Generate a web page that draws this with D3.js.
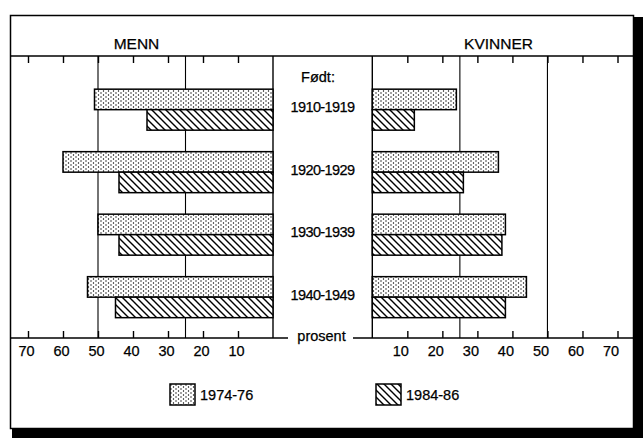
<!DOCTYPE html>
<html>
<head>
<meta charset="utf-8">
<script src="https://cdn.jsdelivr.net/npm/d3@7"></script>
<style>
  body { margin: 0; background: #fff; }
  svg { display: block; font-family: "Liberation Sans", Arial, sans-serif; }
  text { fill: #000; stroke: #000; stroke-width: 0.25px; }
</style>
</head>
<body>
<div class="chart-holder"></div>
<script>
// data (percent)
var cohorts = ["1910-1919", "1920-1929", "1930-1939", "1940-1949"];
var periods = ["1974-76", "1984-86"];
var menn7476 = [51, 60, 50, 53];
var menn8486 = [36, 44, 44, 45];
var kvinner7476 = [24, 36, 38, 44];
var kvinner8486 = [12, 26, 37, 38];
var tickValues = [10, 20, 30, 40, 50, 60, 70];
var gridValues = [25, 50];

var width = 643, height = 438;
var plotTop = 56, plotBottom = 338;

var svg = d3.select(".chart-holder")
    .append("svg")
    .attr("width", width)
    .attr("height", height);

// patterns
var defs = svg.append("defs");
var dots = defs.append("pattern")
    .attr("id", "dots")
    .attr("patternUnits", "userSpaceOnUse")
    .attr("width", 5).attr("height", 4);
dots.append("rect").attr("width", 5).attr("height", 4).attr("fill", "#fff");
dots.append("circle").attr("cx", 1).attr("cy", 1).attr("r", 0.7).attr("fill", "#000");
dots.append("circle").attr("cx", 3.5).attr("cy", 3).attr("r", 0.7).attr("fill", "#000");

var hatch = defs.append("pattern")
    .attr("id", "hatch")
    .attr("patternUnits", "userSpaceOnUse")
    .attr("width", 7).attr("height", 7);
hatch.append("rect").attr("width", 7).attr("height", 7).attr("fill", "#fff");
hatch.append("path")
    .attr("d", "M-1,-1 L8,8 M6,-1 L8,1 M-1,6 L1,8")
    .attr("stroke", "#000").attr("stroke-width", 1.4);

var fills = {"1974-76": "url(#dots)", "1984-86": "url(#hatch)"};

// frame with shadow
svg.append("rect").attr("x", 12).attr("y", 17).attr("width", width - 12).attr("height", height - 17).attr("fill", "#000");
svg.append("rect").attr("x", 10.5).attr("y", 15.5).attr("width", 623).attr("height", 413)
    .attr("fill", "#fff").attr("stroke", "#000").attr("stroke-width", 1.5);

// header
svg.append("line").attr("x1", 10).attr("x2", 634).attr("y1", plotTop).attr("y2", plotTop)
    .attr("stroke", "#000").attr("stroke-width", 1.4);
svg.append("text").attr("x", 136.5).attr("y", 48.5).attr("text-anchor", "middle")
    .style("font-size", "15.5px").text("MENN");
svg.append("text").attr("x", 498.5).attr("y", 48.5).attr("text-anchor", "middle")
    .style("font-size", "15.5px").text("KVINNER");

// scales
var xLeft = d3.scaleLinear().domain([0, 70]).range([273, 28]);
var xRight = d3.scaleLinear().domain([0, 70]).range([372.3, 617.5]);
var y = d3.scaleBand().domain(cohorts).range([plotTop, plotBottom])
    .paddingInner(0.344).paddingOuter(0.428).align(0.62);
var ySub = d3.scaleBand().domain(periods).range([0, y.bandwidth()]);

var panels = [
  {x: xLeft, values: {"1974-76": menn7476, "1984-86": menn8486}, labelShift: -2},
  {x: xRight, values: {"1974-76": kvinner7476, "1984-86": kvinner8486}, labelShift: -7}
];

panels.forEach(function(p) {
  var g = svg.append("g");

  // reference lines
  g.selectAll(".grid").data(gridValues).enter().append("line")
      .attr("x1", function(d) { return p.x(d); })
      .attr("x2", function(d) { return p.x(d); })
      .attr("y1", plotTop).attr("y2", plotBottom)
      .attr("stroke", "#000").attr("stroke-width", 1.1);

  // zero line
  g.append("line").attr("x1", p.x(0)).attr("x2", p.x(0)).attr("y1", plotTop).attr("y2", plotBottom)
      .attr("stroke", "#000").attr("stroke-width", 1.4);

  // top ticks
  var topAxis = g.append("g").attr("transform", "translate(0," + plotTop + ")")
      .call(d3.axisTop(p.x).tickValues(tickValues).tickSizeInner(-7).tickSizeOuter(0).tickFormat(""));
  topAxis.select(".domain").remove();
  topAxis.selectAll("line").attr("stroke-width", 1.4);

  // bottom axis
  var botAxis = g.append("g").attr("transform", "translate(0," + plotBottom + ")")
      .call(d3.axisBottom(p.x).tickValues(tickValues).tickSizeInner(-7).tickSizeOuter(0).tickPadding(8));
  botAxis.select(".domain").remove();
  botAxis.selectAll("line").attr("stroke-width", 1.4);
  botAxis.selectAll("text")
      .attr("dx", p.labelShift)
      .style("font-size", "14.5px")
      .style("font-family", "'Liberation Sans', Arial, sans-serif")
      .attr("fill", "#000");

  // bars
  periods.forEach(function(per) {
    g.selectAll(".bar-" + per).data(cohorts).enter().append("rect")
        .attr("x", function(d, i) { return Math.min(p.x(0), p.x(p.values[per][i])); })
        .attr("width", function(d, i) { return Math.abs(p.x(p.values[per][i]) - p.x(0)); })
        .attr("y", function(d) { return y(d) + ySub(per); })
        .attr("height", ySub.bandwidth())
        .attr("fill", fills[per])
        .attr("stroke", "#000").attr("stroke-width", 1.5);
  });
});

// bottom axis lines with "prosent" gap
svg.append("line").attr("x1", 10).attr("x2", 288).attr("y1", plotBottom).attr("y2", plotBottom)
    .attr("stroke", "#000").attr("stroke-width", 1.3);
svg.append("line").attr("x1", 353).attr("x2", 634).attr("y1", plotBottom).attr("y2", plotBottom)
    .attr("stroke", "#000").attr("stroke-width", 1.3);
svg.append("text").attr("x", 321.5).attr("y", 341).attr("text-anchor", "middle")
    .style("font-size", "14.5px").text("prosent");

// center labels
svg.append("text").attr("x", 318).attr("y", 81.5).attr("text-anchor", "middle")
    .style("font-size", "14.5px").text("Født:");
svg.selectAll(".cohort").data(cohorts).enter().append("text")
    .attr("x", 322.5)
    .attr("y", function(d) { return y(d) + y.bandwidth() / 2 + 2.8; })
    .attr("text-anchor", "middle")
    .style("font-size", "14.5px")
    .style("letter-spacing", "-0.6px")
    .text(function(d) { return d; });

// legend
var legendX = [170, 376];
periods.forEach(function(per, i) {
  svg.append("rect").attr("x", legendX[i]).attr("y", 384).attr("width", 25).attr("height", 21)
      .attr("fill", fills[per]).attr("stroke", "#000").attr("stroke-width", 1.5);
  svg.append("text").attr("x", legendX[i] + 30).attr("y", 399.5)
      .style("font-size", "14.5px").text(per);
});
</script>
</body>
</html>
